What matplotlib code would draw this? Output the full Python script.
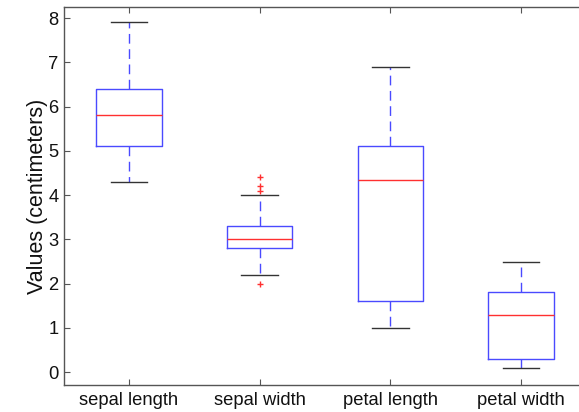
import matplotlib
matplotlib.use("Agg")
import matplotlib.pyplot as plt

categories = ["sepal length", "sepal width", "petal length", "petal width"]
whislo = [4.3, 2.2, 1.0, 0.1]
q1 = [5.1, 2.8, 1.6, 0.3]
med = [5.8, 3.0, 4.35, 1.3]
q3 = [6.4, 3.3, 5.1, 1.8]
whishi = [7.9, 4.0, 6.9, 2.5]
fliers = [[], [4.1, 4.2, 4.4, 2.0], [], []]
yticks = [0, 1, 2, 3, 4, 5, 6, 7, 8]

plt.rcParams['font.family'] = ['Liberation Sans', 'DejaVu Sans']

fig = plt.figure(figsize=(5.79, 4.12), dpi=100)
ax = fig.add_axes([63.5/579, 27/412, 523/579, 378/412])

stats = []
for i, c in enumerate(categories):
    stats.append(dict(label=c, whislo=whislo[i], q1=q1[i], med=med[i],
                      q3=q3[i], whishi=whishi[i], fliers=fliers[i]))

ax.bxp(stats, positions=[1, 2, 3, 4], widths=0.5, capwidths=0.28,
       boxprops=dict(color='#4a4aff', linewidth=1.0),
       whiskerprops=dict(color='#4a4aff', linewidth=1.0, linestyle=(0, (7, 4))),
       capprops=dict(color='#333333', linewidth=1.0),
       medianprops=dict(color='#ff3030', linewidth=1.0),
       flierprops=dict(marker='+', markeredgecolor='#ff3030', markersize=5, linestyle='none'))

ax.set_xlim(0.5, 4.5)
ax.set_ylim(-0.29, 8.25)
ax.set_yticks(yticks)
ax.set_xticks([1, 2, 3, 4])
ax.set_xticklabels(categories, fontsize=13.2, color='#111111')
ax.tick_params(axis='y', labelsize=13.2, labelcolor='#111111')
ax.tick_params(direction='in', top=True, right=True, length=4, color='#555555', width=0.8)
ax.tick_params(axis='x', pad=5)
for s in ax.spines.values():
    s.set_color('#555555')
    s.set_linewidth(1.0)
ax.set_ylabel("Values (centimeters)", fontsize=15.5, labelpad=0, color='#111111')

fig.savefig("out.png", dpi=100)
